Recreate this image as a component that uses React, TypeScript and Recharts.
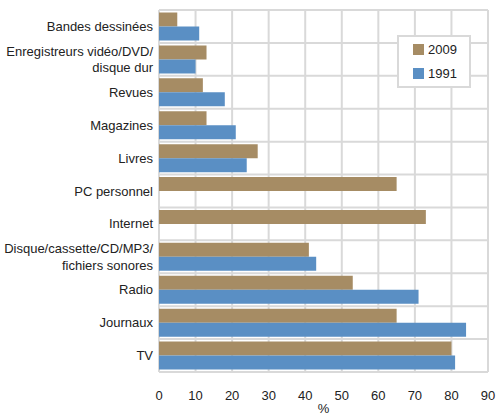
import React from 'react';
import { BarChart, Bar, XAxis, YAxis, CartesianGrid } from 'recharts';

const categories: string[][] = [
  ['Bandes dessinées'],
  ['Enregistreurs vidéo/DVD/', 'disque dur'],
  ['Revues'],
  ['Magazines'],
  ['Livres'],
  ['PC personnel'],
  ['Internet'],
  ['Disque/cassette/CD/MP3/', 'fichiers sonores'],
  ['Radio'],
  ['Journaux'],
  ['TV'],
];
const values2009: (number | null)[] = [5, 13, 12, 13, 27, 65, 73, 41, 53, 65, 80];
const values1991: (number | null)[] = [11, 10, 18, 21, 24, null, null, 43, 71, 84, 81];
const xTicks: number[] = [0, 10, 20, 30, 40, 50, 60, 70, 80, 90];

const series = [
  { key: 'v2009', name: '2009', color: '#A68C64' },
  { key: 'v1991', name: '1991', color: '#5A8FC4' },
];

const data = categories.map((c, i) => ({
  name: c.join('\n'),
  v2009: values2009[i],
  v1991: values1991[i],
}));

const FONT = 'Liberation Sans, Arial, sans-serif';

const YTick = (props: any) => {
  const { x, y, payload } = props;
  const lines = String(payload.value).split('\n');
  const lh = 16.5;
  const start = -((lines.length - 1) * lh) / 2;
  return (
    <text x={x} y={y} textAnchor="end" fontFamily={FONT} fontSize={13} fill="#222">
      {lines.map((l, i) => (
        <tspan key={i} x={x} y={y + start + i * lh} dy="0.35em">{l}</tspan>
      ))}
    </text>
  );
};

const LegendBox = () => (
  <div
    style={{
      position: 'absolute',
      left: 397,
      top: 35,
      width: 74,
      height: 53,
      boxSizing: 'border-box',
      border: '2px solid #D9D9D9',
      background: '#fff',
      fontFamily: FONT,
      fontSize: 13,
      color: '#222',
    }}
  >
    {series.map((s, i) => (
      <div
        key={s.key}
        style={{ position: 'absolute', left: 14, top: 4 + i * 24, height: 16, display: 'flex', alignItems: 'center' }}
      >
        <span style={{ display: 'inline-block', width: 11, height: 11, background: s.color, marginRight: 4 }} />
        <span>{s.name}</span>
      </div>
    ))}
  </div>
);

export default function App() {
  return (
    <div style={{ position: 'absolute', left: 0, top: 0, width: 497, height: 415, background: '#fff' }}>
      <BarChart
        width={497}
        height={415}
        data={data}
        layout="vertical"
        margin={{ top: 10, right: 9, bottom: 0, left: 0 }}
        barCategoryGap={2.5}
        barGap={0}
      >
        <CartesianGrid
          stroke="#D9D9D9"
          strokeWidth={2}
          horizontalCoordinatesGenerator={({ offset }: any) =>
            categories.map((_, i) => offset.top + (i * offset.height) / categories.length).concat([offset.top + offset.height])
          }
        />
        <XAxis
          type="number"
          domain={[0, 90]}
          ticks={xTicks}
          interval={0}
          axisLine={false}
          tickLine={false}
          tickSize={0}
          tickMargin={19}
          height={43}
          tick={{ fontFamily: FONT, fontSize: 13, fill: '#222' }}
          label={{ value: '%', position: 'insideBottom', offset: 2, fontFamily: FONT, fontSize: 13, fill: '#222' }}
        />
        <YAxis
          type="category"
          dataKey="name"
          width={159}
          axisLine={false}
          tickLine={false}
          tickSize={0}
          tickMargin={6}
          interval={0}
          tick={<YTick />}
        />
        {series.map((s) => (
          <Bar key={s.key} dataKey={s.key} name={s.name} fill={s.color} isAnimationActive={false} />
        ))}
      </BarChart>
      <LegendBox />
    </div>
  );
}
